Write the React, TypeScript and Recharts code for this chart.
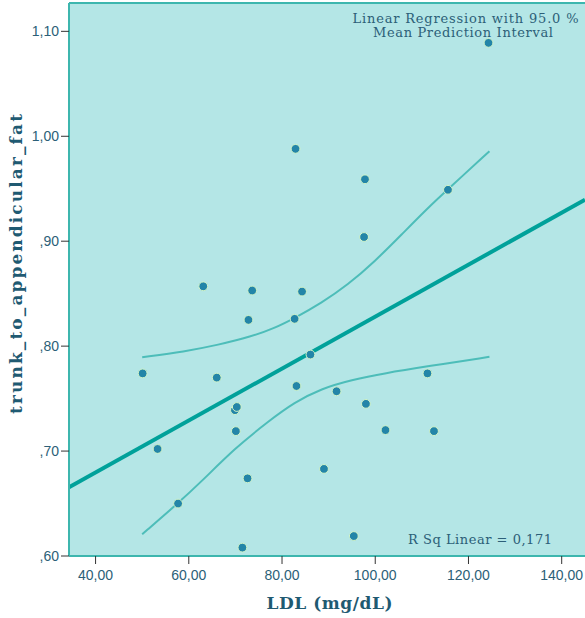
import {
  ComposedChart, Scatter, Line, XAxis, YAxis, CartesianGrid, ReferenceLine,
} from 'recharts'

// observations: LDL (mg/dL) vs trunk_to_appendicular_fat
const ldl = [
  124.3, 82.9, 97.8, 115.6, 97.6, 63.1, 73.6, 84.3, 72.8, 82.7, 86.1, 50.1, 66.0, 83.1,
  91.7, 69.9, 70.3, 98.0, 111.2, 102.2, 112.6, 70.1, 53.3, 89.0, 72.6, 57.7, 95.4, 71.5,
]
const fat = [
  1.089, 0.988, 0.959, 0.949, 0.904, 0.857, 0.853, 0.852, 0.825, 0.826, 0.792, 0.774, 0.770, 0.762,
  0.757, 0.739, 0.742, 0.745, 0.774, 0.720, 0.719, 0.719, 0.702, 0.683, 0.674, 0.650, 0.619, 0.608,
]

// fitted line, end to end across the x range
const fitLdl = [34.3, 145]
const fitFat = [0.6655, 0.9395]

// 95% mean prediction interval
const upperLdl = [50.0, 59.1, 66.3, 73.4, 78.4, 82.7, 88.4, 94.1, 99.9, 105.6, 111.3, 115.6, 124.5]
const upperFat = [0.7895, 0.7948, 0.8012, 0.8091, 0.8172, 0.8267, 0.841, 0.8584, 0.8807, 0.9061, 0.9318, 0.9495, 0.9858]
const lowerLdl = [50.0, 57.7, 62.7, 69.9, 77.0, 82.7, 88.4, 94.9, 102.0, 111.3, 124.5]
const lowerFat = [0.6207, 0.6503, 0.6709, 0.7027, 0.7281, 0.7465, 0.7595, 0.7678, 0.7742, 0.7808, 0.7898]

const xTicks = [40, 60, 80, 100, 120, 140]
const yTicks = [0.6, 0.7, 0.8, 0.9, 1.0, 1.1]
const xDomain: [number, number] = [34.3, 145]
const yDomain: [number, number] = [0.6, 1.127]

const rSquared = '0,171'

const zip = (xs: number[], ys: number[]) => xs.map((x, i) => ({ x, y: ys[i] }))

const points = zip(ldl, fat)
const fit = zip(fitLdl, fitFat)
const upper = zip(upperLdl, upperFat)
const lower = zip(lowerLdl, lowerFat)

const xFmt = (v: number) => v.toFixed(2).replace('.', ',')
const yFmt = (v: number) => {
  const s = v.toFixed(2).replace('.', ',')
  return s.startsWith('0') ? s.slice(1) : s
}

const FRAME = '#3db6ae'
const TEXT = '#2c5f78'
const TITLE = '#1f5a72'
const SLAB = '"DejaVu Serif", serif'
const SANS = '"Liberation Sans", Arial, sans-serif'

const Dot = (props: any) => {
  const { cx, cy } = props
  if (cx == null || cy == null) return null
  return <circle cx={cx} cy={cy} r={4.4} fill="#2385a8" stroke="#d2f4c8" strokeWidth={1} />
}

export default function App() {
  return (
    <div style={{ position: 'absolute', left: 0, top: 0, width: 585, height: 618, background: '#fff' }}>
      <ComposedChart width={585} height={618} margin={{ top: 3, right: 0, bottom: 0, left: 0 }}>
        <CartesianGrid fill="#b4e6e6" stroke="none" horizontal={false} vertical={false} />
        <XAxis
          type="number"
          dataKey="x"
          domain={xDomain}
          ticks={xTicks}
          allowDataOverflow
          tickFormatter={xFmt}
          height={62}
          tickSize={8}
          tickMargin={6}
          axisLine={{ stroke: FRAME, strokeWidth: 2 }}
          tickLine={{ stroke: '#333' }}
          tick={{ fill: TEXT, fontSize: 14, fontFamily: SANS }}
        />
        <YAxis
          type="number"
          dataKey="y"
          domain={yDomain}
          ticks={yTicks}
          allowDataOverflow
          tickFormatter={yFmt}
          width={69}
          tickSize={8}
          tickMargin={2}
          axisLine={{ stroke: FRAME, strokeWidth: 2 }}
          tickLine={{ stroke: '#333' }}
          tick={{ fill: TEXT, fontSize: 14, fontFamily: SANS }}
        />
        <ReferenceLine y={yDomain[1]} stroke={FRAME} strokeWidth={2} ifOverflow="visible" />
        {/* basis smoothing keeps the interval bands free of small kinks */}
        <Line data={upper} dataKey="y" type="basis" stroke="#4dbdb9" strokeWidth={2} dot={false} isAnimationActive={false} />
        <Line data={lower} dataKey="y" type="basis" stroke="#4dbdb9" strokeWidth={2} dot={false} isAnimationActive={false} />
        <Line data={fit} dataKey="y" type="linear" stroke="#00a19a" strokeWidth={4} dot={false} isAnimationActive={false} />
        <Scatter data={points} dataKey="y" shape={Dot} isAnimationActive={false} />
      </ComposedChart>

      <svg width={585} height={618} style={{ position: 'absolute', left: 0, top: 0, pointerEvents: 'none' }}>
        <g fontFamily={SLAB} fontSize={13} fill={TEXT} textAnchor="middle" lengthAdjust="spacing">
          <text x={465.5} y={23} textLength={226}>Linear Regression with 95.0 %</text>
          <text x={463} y={37} textLength={180}>Mean Prediction Interval</text>
        </g>
        <text x={552} y={544} fontFamily={SLAB} fontSize={13} fill={TEXT} textAnchor="end" textLength={144} lengthAdjust="spacing">
          R Sq Linear = {rSquared}
        </text>
        <text x={329.5} y={609} fontFamily={SLAB} fontSize={17} fontWeight="bold" fill={TITLE} textAnchor="middle" textLength={126} lengthAdjust="spacing">
          LDL (mg/dL)
        </text>
        <text
          x={0}
          y={0}
          transform="translate(22 264) rotate(-90)"
          fontFamily={SLAB}
          fontSize={17}
          fontWeight="bold"
          fill={TITLE}
          textAnchor="middle"
          textLength={300}
          lengthAdjust="spacing"
        >
          trunk_to_appendicular_fat
        </text>
      </svg>
    </div>
  )
}
